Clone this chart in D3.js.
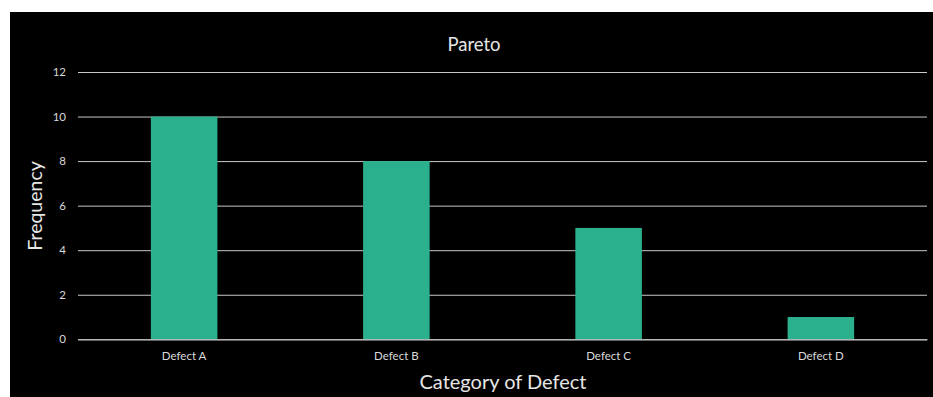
<!DOCTYPE html>
<html><head><meta charset="utf-8">
<script src="https://cdn.jsdelivr.net/npm/d3@7"></script>
<style>html,body{margin:0;padding:0;background:#fff;}svg{display:block;}</style>
</head><body>
<svg id="c" width="933" height="397"></svg>
<script>
const categories = ["Defect A", "Defect B", "Defect C", "Defect D"];
const frequency = [10, 8, 5, 1];
const yTicks = [0, 2, 4, 6, 8, 10, 12];
const title = "Pareto";
const xTitle = "Category of Defect";
const yTitle = "Frequency";

const svg = d3.select("#c");
const font = "Lato, 'Open Sans', sans-serif";
svg.append("rect").attr("x", 10).attr("y", 12).attr("width", 923).attr("height", 385).attr("fill", "#000");

const m = {left: 78, right: 927, top: 72, bottom: 339.3};
const x = d3.scaleBand().domain(categories).range([m.left, m.right]).paddingInner(0.6865).paddingOuter(0.6865/2);
const y = d3.scaleLinear().domain([0, 12]).range([m.bottom, m.top]);

const yAxis = d3.axisLeft(y).tickValues(yTicks).tickSize(-(m.right - m.left)).tickPadding(12);
const gy = svg.append("g").attr("transform", `translate(${m.left},0)`).call(yAxis);
gy.select(".domain").remove();
gy.selectAll(".tick line").attr("stroke", "#c8c8c8").attr("stroke-width", 1);
gy.selectAll(".tick text").attr("fill", "#d9d9d9").attr("font-size", 11.5).attr("font-family", font);

svg.append("g").selectAll("rect").data(frequency).join("rect")
  .attr("x", (d, i) => x(categories[i]))
  .attr("width", x.bandwidth())
  .attr("y", d => y(d))
  .attr("height", d => y(0) - y(d))
  .attr("fill", "#2bb08e");

const xAxis = d3.axisBottom(x).tickSize(0).tickPadding(13);
const gx = svg.append("g").attr("transform", `translate(0,${m.bottom})`).call(xAxis);
gx.select(".domain").attr("stroke", "#c8c8c8");
gx.selectAll(".tick text").attr("fill", "#d9d9d9").attr("font-size", 11.5).attr("font-family", font);

svg.append("text").attr("x", 474).attr("y", 51).attr("text-anchor", "middle")
  .attr("fill", "#e6e6e6").attr("font-size", 18.5).attr("font-family", font).text(title);
svg.append("text").attr("x", 503).attr("y", 389).attr("text-anchor", "middle")
  .attr("fill", "#e6e6e6").attr("font-size", 20).attr("font-family", font).text(xTitle);
svg.append("text").attr("transform", "translate(42,206) rotate(-90)").attr("text-anchor", "middle")
  .attr("fill", "#e6e6e6").attr("font-size", 19.5).attr("font-family", font).text(yTitle);
</script>
</body></html>
